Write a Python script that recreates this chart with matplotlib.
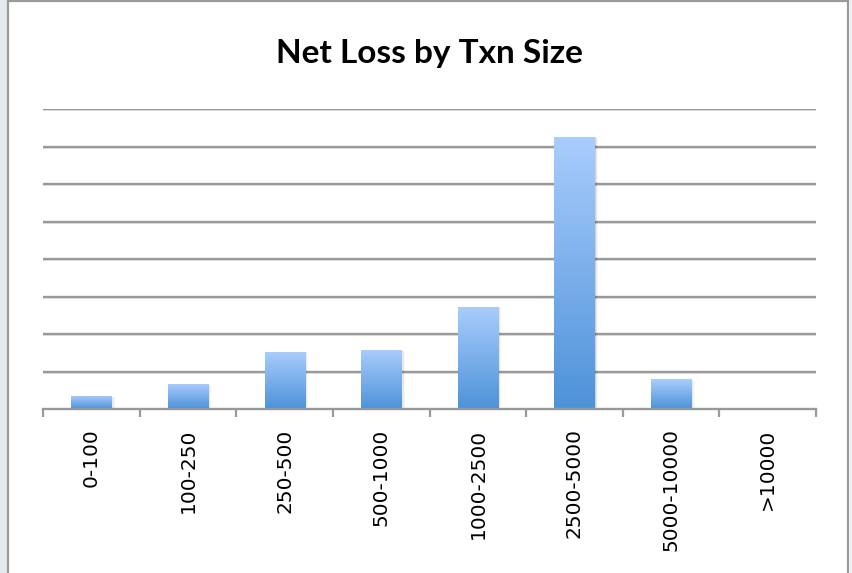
import numpy as np
import matplotlib
matplotlib.use("Agg")
import matplotlib.pyplot as plt
from matplotlib.colors import LinearSegmentedColormap
from matplotlib.lines import Line2D
from matplotlib.patches import Rectangle

# Net loss per transaction-size bucket (units of one gridline step)
categories = ["0-100", "100-250", "250-500", "500-1000",
              "1000-2500", "2500-5000", "5000-10000", ">10000"]
net_loss = [0.35, 0.67, 1.53, 1.58, 2.73, 7.26, 0.80, 0.0]
title = "Net Loss by Txn Size"

W, H = 852, 573
fig = plt.figure(figsize=(W / 100, H / 100), dpi=100)
fig.patch.set_facecolor("white")

def fx(px):
    return px / W

def fy(py):
    return 1 - py / H

# Window-like frame around the chart
fig.add_artist(Rectangle((0, 0), fx(7.5), 1, transform=fig.transFigure,
                         facecolor="#e6e9ed", edgecolor="none", zorder=0))
fig.add_artist(Rectangle((fx(849.5), 0), fx(3), 1, transform=fig.transFigure,
                         facecolor="#eef0f2", edgecolor="none", zorder=0))
for xs, ys in [([fx(8.3), fx(8.3)], [0, fy(0.5)]),
               ([fx(848.3), fx(848.3)], [0, fy(0.5)]),
               ([fx(8.3), fx(848.3)], [fy(1.0), fy(1.0)])]:
    fig.add_artist(Line2D(xs, ys, transform=fig.transFigure,
                          color="#9a9a9a", lw=1.6, zorder=1))

left, right, base, top = 43, 816, 409, 109
ax = fig.add_axes([fx(left), fy(base), (right - left) / W, (base - top) / H])
ax.set_facecolor("none")

for sp in ["left", "right", "top"]:
    ax.spines[sp].set_visible(False)
ax.spines["bottom"].set_color("#989898")
ax.spines["bottom"].set_linewidth(1.7)
ax.spines["bottom"].set_zorder(4)

# Horizontal gridlines with a faint shadow under each
for yv in range(1, 9):
    ax.axhline(yv - 0.035, color="#e4e4e4", lw=1.2, zorder=1)
    ax.axhline(yv, color="#999999", lw=1.7, zorder=1.5)

x = np.arange(len(categories))
bars = ax.bar(x, net_loss, width=0.414, facecolor="none",
              edgecolor="none", zorder=3)

cmap = LinearSegmentedColormap.from_list("barfill", ["#4d92d9", "#aacdfd"])
grad = np.linspace(0, 1, 256).reshape(-1, 1)
for b, v in zip(bars, net_loss):
    if v <= 0:
        continue
    x0 = b.get_x()
    w = b.get_width()
    # soft shadow to the right
    for k, a in enumerate([0.10, 0.06, 0.03]):
        ax.add_patch(Rectangle((x0 + 0.012 * (k + 1), 0), w, v - 0.02 * k,
                               facecolor="#000000", alpha=a, edgecolor="none",
                               zorder=2))
    im = ax.imshow(grad, extent=(x0, x0 + w, 0, v), origin="lower",
                   cmap=cmap, aspect="auto", zorder=3)
    im.set_clip_path(b)

ax.set_xlim(-0.5, len(categories) - 0.5)
ax.set_ylim(0, 8)

ax.set_yticks([])
ax.set_xticks(x)
ax.set_xticklabels(categories, rotation=90, fontsize=14.5,
                   family="DejaVu Sans", color="black")
ax.tick_params(axis="x", which="major", length=0, pad=14)
ax.set_xticks(np.arange(-0.5, len(categories)), minor=True)
ax.tick_params(axis="x", which="minor", length=6, width=1.6,
               color="#9a9a9a", direction="out")

fig.text(fx(429.2), fy(63.3), title, ha="center", va="baseline",
         fontsize=24, fontweight="bold", family="Lato", color="black")

fig.savefig("out.png", dpi=100, facecolor=fig.get_facecolor())
